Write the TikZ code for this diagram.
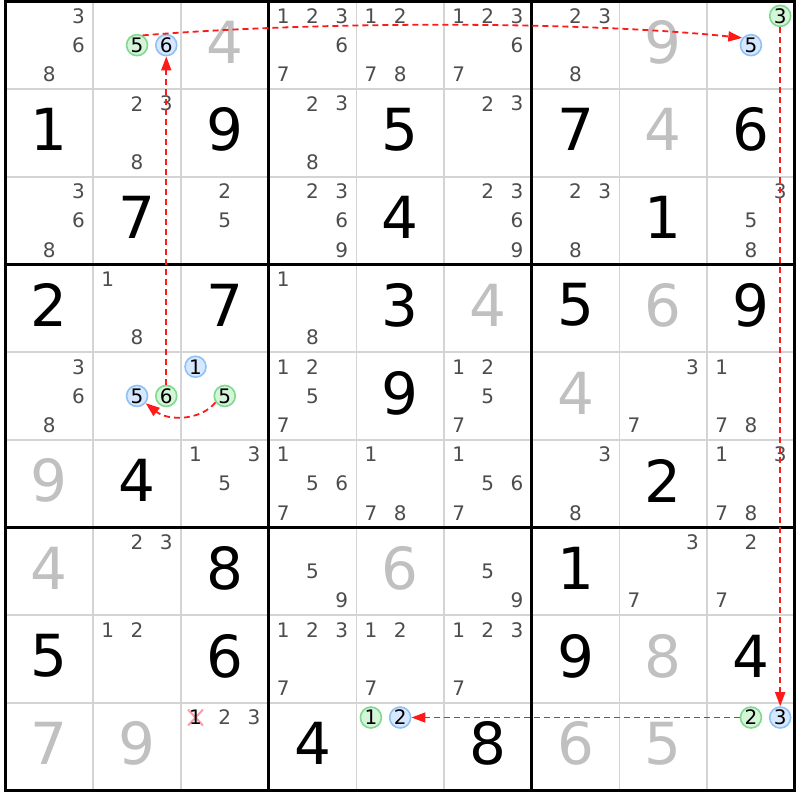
\documentclass[tikz,border=0pt]{standalone}
\usepackage{fontspec}
\setmainfont{DejaVu Sans}
\usetikzlibrary{arrows.meta,shapes.misc}
\definecolor{candgray}{HTML}{4D4D4D}
\definecolor{solvedgray}{HTML}{C0C0C0}
\definecolor{thingrid}{HTML}{D4D4D4}
\definecolor{gfill}{HTML}{D4F5D8}
\definecolor{gdraw}{HTML}{7FD98F}
\definecolor{bfill}{HTML}{D6E8FF}
\definecolor{bdraw}{HTML}{8FC1F5}
\definecolor{linkred}{HTML}{FF1A1A}
\definecolor{crossred}{HTML}{FF9AA8}
\begin{document}
\begin{tikzpicture}[x=1pt,y=-1pt,
  given/.style={font=\fontsize{58}{58}\selectfont, text=black, inner sep=0pt},
  solved/.style={given, text=solvedgray},
  cand/.style={font=\fontsize{20}{20}\selectfont, text=candgray, inner sep=0pt},
  gcirc/.style={circle, draw=gdraw, fill=gfill, line width=1.6pt, minimum size=21pt, inner sep=0pt, font=\fontsize{20}{20}\selectfont, text=black},
  bcirc/.style={gcirc, draw=bdraw, fill=bfill},
  link/.style={draw=linkred, line width=1.8pt, dash pattern=on 6pt off 4pt, -{Triangle[length=14pt,width=10pt,fill=linkred]}},
  gridthin/.style={draw=thingrid, line width=1.6pt},
  gridthick/.style={draw=black, line width=3pt, line cap=rect},
  crossmark/.style={cross out, draw=crossred, line width=2pt, minimum width=13pt, minimum height=14pt, inner sep=0pt}
]
\def\gx{5.5}\def\gy{1.3}\def\cs{87.7}
\fill[white] (0,0) rectangle (800,800);
\useasboundingbox (0,0) rectangle (800,800);
% thin grid
\foreach \i in {1,2,4,5,7,8} {
  \draw[gridthin] ({\gx+\i*\cs},\gy) -- ({\gx+\i*\cs},{\gy+9*\cs});
  \draw[gridthin] (\gx,{\gy+\i*\cs}) -- ({\gx+9*\cs},{\gy+\i*\cs});
}
% thick grid
\foreach \i in {0,3,6,9} {
  \draw[gridthick] ({\gx+\i*\cs},\gy) -- ({\gx+\i*\cs},{\gy+9*\cs});
  \draw[gridthick] (\gx,{\gy+\i*\cs}) -- ({\gx+9*\cs},{\gy+\i*\cs});
}
% given digits
\foreach \r/\c/\d in {2/1/1,2/3/9,2/5/5,2/7/7,2/9/6,3/2/7,3/5/4,3/8/1,
  4/1/2,4/3/7,4/5/3,4/7/5,4/9/9,5/5/9,6/2/4,6/8/2,7/3/8,7/7/1,
  8/1/5,8/3/6,8/7/9,8/9/4,9/4/4,9/6/8}
  \node[given] (v-\r-\c) at ({\gx+\cs*(\c-0.5)},{\gy+\cs*(\r-0.5)-3}) {\d};
% solved digits
\foreach \r/\c/\d in {1/3/4,1/8/9,2/8/4,4/6/4,4/8/6,5/7/4,6/1/9,7/1/4,7/5/6,
  8/8/8,9/1/7,9/2/9,9/7/6,9/8/5}
  \node[solved] (v-\r-\c) at ({\gx+\cs*(\c-0.5)},{\gy+\cs*(\r-0.5)-3}) {\d};
% candidates
\foreach \r/\c/\L in {1/1/{3,6,8},1/4/{1,2,3,6,7},1/5/{1,2,7,8},1/6/{1,2,3,6,7},1/7/{2,3,8},
  2/2/{2,3,8},2/4/{2,3,8},2/6/{2,3},
  3/1/{3,6,8},3/3/{2,5},3/4/{2,3,6,9},3/6/{2,3,6,9},3/7/{2,3,8},3/9/{3,5,8},
  4/2/{1,8},4/4/{1,8},
  5/1/{3,6,8},5/4/{1,2,5,7},5/6/{1,2,5,7},5/8/{3,7},5/9/{1,7,8},
  6/3/{1,3,5},6/4/{1,5,6,7},6/5/{1,7,8},6/6/{1,5,6,7},6/7/{3,8},6/9/{1,3,7,8},
  7/2/{2,3},7/4/{5,9},7/6/{5,9},7/8/{3,7},7/9/{2,7},
  8/2/{1,2},8/4/{1,2,3,7},8/5/{1,2,7},8/6/{1,2,3,7},
  9/3/{2,3}}
  \foreach \d in \L
    \node[cand] (k-\r-\c-\d) at ({\gx+\cs*(\c-1)+\cs*(2*mod(\d-1,3)+1)/6},{\gy+\cs*(\r-1)+\cs*(2*floor((\d-1)/3)+1)/6}) {\d};
% eliminated candidate
\node[crossmark] (x-9-3-1) at ({\gx+\cs*2+\cs/6},{\gy+\cs*8+\cs/6}) {};
\node[cand, text=black] (k-9-3-1) at ({\gx+\cs*2+\cs/6},{\gy+\cs*8+\cs/6}) {1};
% highlighted candidates
\foreach \r/\c/\d/\k in {1/2/5/g,1/2/6/b,1/9/3/g,1/9/5/b,5/2/5/b,5/2/6/g,5/3/1/b,5/3/5/g,
  9/5/1/g,9/5/2/b,9/9/2/g,9/9/3/b}
  \node[\k circ] (\k\r\c\d) at ({\gx+\cs*(\c-1)+\cs*(2*mod(\d-1,3)+1)/6},{\gy+\cs*(\r-1)+\cs*(2*floor((\d-1)/3)+1)/6}) {\d};
% links
\draw[link] (g125.60) .. controls (320,21) and (580,21) .. (b195.140);
\draw[link] (g526) -- (b126);
\draw[link] (g535.215) .. controls (200,421) and (168,421) .. (b525.-40);
\draw[link] (g193) -- (b993);
\draw[link] (g992) -- (b952);
\end{tikzpicture}
\end{document}
